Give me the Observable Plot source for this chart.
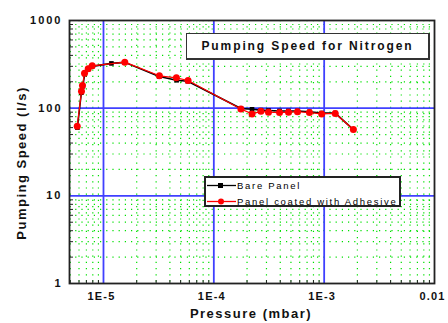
<!DOCTYPE html>
<html><head><meta charset="utf-8">
<script src="https://cdn.jsdelivr.net/npm/d3@7"></script>
<script src="https://cdn.jsdelivr.net/npm/@observablehq/plot@0.6"></script>
<style>
body{margin:0;background:#fff;}
#wrap{position:relative;width:448px;height:323px;font-family:Arial,"Liberation Sans",sans-serif;}
#wrap svg text{letter-spacing:2px;}
#wrap g.xt text{letter-spacing:1.2px;}
#wrap svg text.axlab, #wrap g.axlab text{font-size:13px;letter-spacing:1.5px;}
.title{position:absolute;left:186px;top:33px;width:244px;height:27px;box-sizing:border-box;border:1px solid #333;border-right-width:2px;border-bottom-width:2px;background:#fff;font-size:12px;font-weight:bold;letter-spacing:1.9px;display:flex;align-items:center;justify-content:center;color:#111;}
.legend{position:absolute;left:204px;top:176px;width:197px;height:31px;box-sizing:border-box;border:2px solid #222;background:#fff;font-size:9.5px;letter-spacing:1.7px;color:#000;}
.row{position:absolute;left:0;height:14px;display:flex;align-items:center;white-space:nowrap;}
.row svg{display:block;}
</style></head>
<body><div id="wrap"></div>
<script>
const titleText = "Pumping Speed for Nitrogen";
const seriesNames = ["Bare Panel", "Panel coated with Adhesive"];
const seriesColors = ["#000000", "#ff0000"];
const xLabel = "Pressure (mbar)";
const yLabel = "Pumping Speed (l/s)";

const bareP = [5.8e-6, 6.3e-6, 6.5e-6, 6.75e-6, 7.3e-6, 7.9e-6, 1.18e-5, 1.56e-5, 3.2e-5, 4.6e-5, 5.8e-5, 1.76e-4, 2.22e-4, 2.67e-4, 3.13e-4, 3.94e-4, 4.75e-4, 5.73e-4, 7.36e-4, 9.5e-4, 1.26e-3, 1.84e-3];
const bareS = [60, 150, 178, 245, 280, 300, 324, 333, 230, 208, 203, 99, 97, 95, 94, 93, 93, 93, 91, 88, 88, 57];
const adhP = [5.78e-6, 6.32e-6, 6.45e-6, 6.73e-6, 7.27e-6, 7.9e-6, 1.56e-5, 3.21e-5, 4.58e-5, 5.84e-5, 1.76e-4, 2.22e-4, 2.67e-4, 3.13e-4, 3.94e-4, 4.75e-4, 5.73e-4, 7.36e-4, 9.5e-4, 1.26e-3, 1.84e-3];
const adhS = [62, 156, 181, 250, 281, 304, 335, 234, 222, 207, 98, 86, 92, 90, 89, 90, 91, 89, 86, 87, 57];

const xMajor = [1e-5, 1e-4, 1e-3, 1e-2];
const xMajorLabels = ["1E-5", "1E-4", "1E-3", "0.01"];
const yMajor = [1, 10, 100, 1000];
const yMajorLabels = ["1", "10", "100", "1000"];
const xMinor = [5e-6,6e-6,7e-6,8e-6,9e-6, 2e-5,3e-5,4e-5,5e-5,6e-5,7e-5,8e-5,9e-5, 2e-4,3e-4,4e-4,5e-4,6e-4,7e-4,8e-4,9e-4, 2e-3,3e-3,4e-3,5e-3,6e-3,7e-3,8e-3,9e-3];
const yMinor = [2,3,4,5,6,7,8,9, 20,30,40,50,60,70,80,90, 200,300,400,500,600,700,800,900];

const bare = bareP.map((p,i)=>({p, s: bareS[i]}));
const adh = adhP.map((p,i)=>({p, s: adhS[i]}));
const xTicks = xMajor.map((v,i)=>({v, t: xMajorLabels[i]}));
const yTicks = yMajor.map((v,i)=>({v, t: yMajorLabels[i]}));

const chart = Plot.plot({
  width: 448, height: 323,
  marginLeft: 69, marginRight: 14, marginTop: 20, marginBottom: 40,
  style: {fontFamily: "Arial, 'Liberation Sans', sans-serif", fontSize: "11px", fontWeight: "bold", color: "#111", background: "#fff"},
  x: {type: "log", domain: [4.92e-6, 1e-2], axis: null},
  y: {type: "log", domain: [1, 1000], axis: null},
  marks: [
    Plot.ruleX(xMinor, {stroke: "#00e000", strokeWidth: 1.2, strokeDasharray: "1.2,5"}),
    Plot.ruleY(yMinor, {stroke: "#00e000", strokeWidth: 1.2, strokeDasharray: "1.2,5"}),
    Plot.ruleX(xMajor.slice(0,3), {stroke: "#4040ff", strokeWidth: 1.8}),
    Plot.ruleY(yMajor.slice(1,3), {stroke: "#4040ff", strokeWidth: 1.8}),
    Plot.axisY(yMinor, {anchor: "left", tickSize: -4, tickFormat: () => "", label: null, stroke: "#222"}),
    Plot.axisX(xMinor, {anchor: "bottom", tickSize: -3, tickFormat: () => "", label: null, stroke: "#222"}),
    Plot.text(yTicks, {y: "v", text: "t", frameAnchor: "left", textAnchor: "end", dx: -7, fill: "#111"}),
    Plot.text(xTicks, {x: "v", text: "t", frameAnchor: "bottom", lineAnchor: "top", dy: 9, dx: -2, fill: "#111", className: "xt"}),
    Plot.text([xLabel], {frameAnchor: "bottom", dx: -1, dy: 34, fill: "#111", className: "axlab"}),
    Plot.frame({stroke: "#222", strokeWidth: 1.8}),
    Plot.line(bare, {x: "p", y: "s", stroke: seriesColors[0], strokeWidth: 1.6}),
    Plot.dot(bare, {x: "p", y: "s", symbol: "square", fill: seriesColors[0], r: 2.6}),
    Plot.line(adh, {x: "p", y: "s", stroke: seriesColors[1], strokeWidth: 1.2}),
    Plot.dot(adh, {x: "p", y: "s", fill: seriesColors[1], r: 3.5})
  ]
});
const wrap = document.getElementById("wrap");
wrap.appendChild(chart);

d3.select(chart).append("text")
  .attr("class", "axlab")
  .attr("transform", "translate(26,163) rotate(-90)")
  .attr("text-anchor", "middle")
  .attr("fill", "#111")
  .text(yLabel);

const t = document.createElement("div");
t.className = "title"; t.textContent = titleText;
wrap.appendChild(t);

const lg = document.createElement("div");
lg.className = "legend";
seriesNames.forEach((name, i) => {
  const row = document.createElement("div");
  row.className = "row";
  row.style.top = (i === 0 ? 0 : 16) + "px";
  const sym = i === 0
    ? `<rect x="12" y="4" width="5" height="5" fill="${seriesColors[i]}"/>`
    : `<circle cx="15" cy="6.5" r="3" fill="${seriesColors[i]}"/>`;
  row.innerHTML = `<svg width="31" height="13"><line x1="1" x2="30" y1="6.5" y2="6.5" stroke="${seriesColors[i]}" stroke-width="1.3"/>${sym}</svg><span>${name}</span>`;
  lg.appendChild(row);
});
wrap.appendChild(lg);
</script></body></html>
